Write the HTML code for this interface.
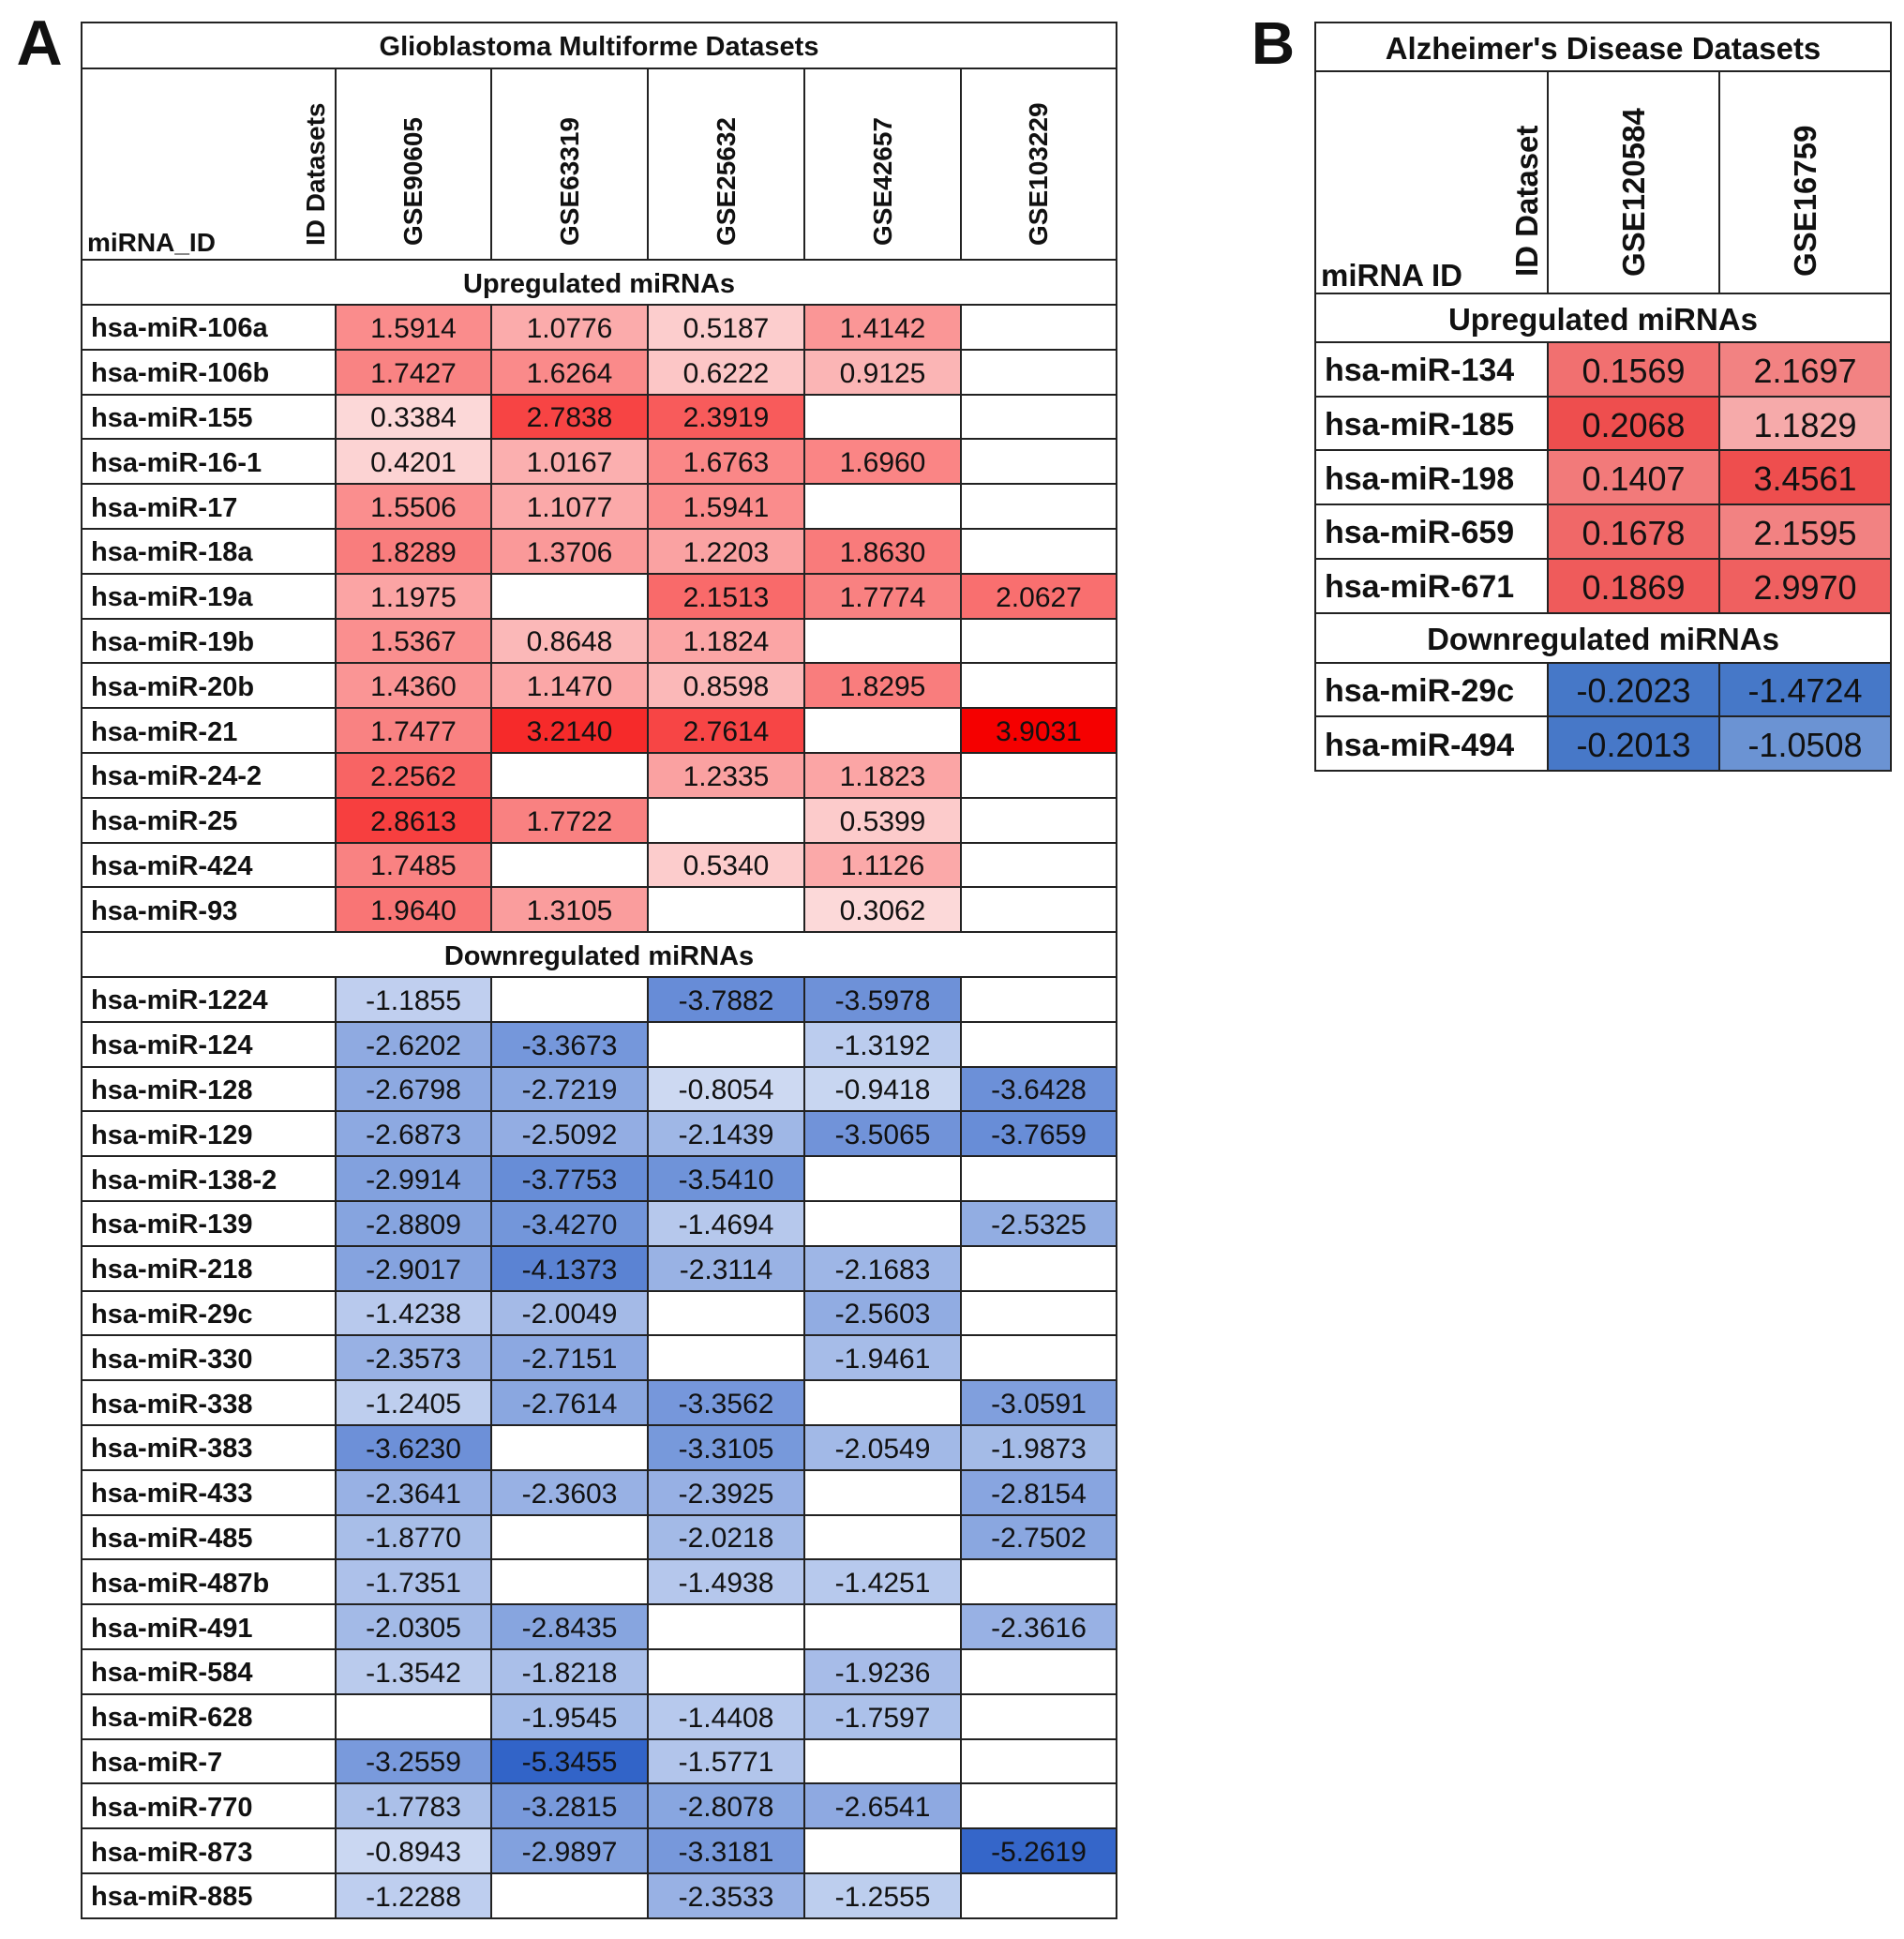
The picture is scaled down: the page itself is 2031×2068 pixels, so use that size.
<!DOCTYPE html>
<html><head><meta charset="utf-8"><style>
body{margin:0;background:#fff;width:2031px;height:2068px;position:relative;overflow:hidden;font-family:"Liberation Sans",Arial,sans-serif;color:#111}
.c{position:absolute;box-sizing:border-box;display:flex;align-items:center;justify-content:center;white-space:nowrap;padding-top:4px}
.ln{position:absolute;background:#222}
.rot{position:absolute;transform-origin:0 0;transform:rotate(-90deg);white-space:nowrap;font-weight:bold}
</style></head><body>
<div id="root"></div>
<script>
// ===== Panel A data =====
const colsA = ["GSE90605","GSE63319","GSE25632","GSE42657","GSE103229"];
const upRowsA = ["hsa-miR-106a","hsa-miR-106b","hsa-miR-155","hsa-miR-16-1","hsa-miR-17","hsa-miR-18a","hsa-miR-19a","hsa-miR-19b","hsa-miR-20b","hsa-miR-21","hsa-miR-24-2","hsa-miR-25","hsa-miR-424","hsa-miR-93"];
const upValsA = [
 [1.5914,1.0776,0.5187,1.4142,null],
 [1.7427,1.6264,0.6222,0.9125,null],
 [0.3384,2.7838,2.3919,null,null],
 [0.4201,1.0167,1.6763,1.6960,null],
 [1.5506,1.1077,1.5941,null,null],
 [1.8289,1.3706,1.2203,1.8630,null],
 [1.1975,null,2.1513,1.7774,2.0627],
 [1.5367,0.8648,1.1824,null,null],
 [1.4360,1.1470,0.8598,1.8295,null],
 [1.7477,3.2140,2.7614,null,3.9031],
 [2.2562,null,1.2335,1.1823,null],
 [2.8613,1.7722,null,0.5399,null],
 [1.7485,null,0.5340,1.1126,null],
 [1.9640,1.3105,null,0.3062,null]];
const downRowsA = ["hsa-miR-1224","hsa-miR-124","hsa-miR-128","hsa-miR-129","hsa-miR-138-2","hsa-miR-139","hsa-miR-218","hsa-miR-29c","hsa-miR-330","hsa-miR-338","hsa-miR-383","hsa-miR-433","hsa-miR-485","hsa-miR-487b","hsa-miR-491","hsa-miR-584","hsa-miR-628","hsa-miR-7","hsa-miR-770","hsa-miR-873","hsa-miR-885"];
const downValsA = [
 [-1.1855,null,-3.7882,-3.5978,null],
 [-2.6202,-3.3673,null,-1.3192,null],
 [-2.6798,-2.7219,-0.8054,-0.9418,-3.6428],
 [-2.6873,-2.5092,-2.1439,-3.5065,-3.7659],
 [-2.9914,-3.7753,-3.5410,null,null],
 [-2.8809,-3.4270,-1.4694,null,-2.5325],
 [-2.9017,-4.1373,-2.3114,-2.1683,null],
 [-1.4238,-2.0049,null,-2.5603,null],
 [-2.3573,-2.7151,null,-1.9461,null],
 [-1.2405,-2.7614,-3.3562,null,-3.0591],
 [-3.6230,null,-3.3105,-2.0549,-1.9873],
 [-2.3641,-2.3603,-2.3925,null,-2.8154],
 [-1.8770,null,-2.0218,null,-2.7502],
 [-1.7351,null,-1.4938,-1.4251,null],
 [-2.0305,-2.8435,null,null,-2.3616],
 [-1.3542,-1.8218,null,-1.9236,null],
 [null,-1.9545,-1.4408,-1.7597,null],
 [-3.2559,-5.3455,-1.5771,null,null],
 [-1.7783,-3.2815,-2.8078,-2.6541,null],
 [-0.8943,-2.9897,-3.3181,null,-5.2619],
 [-1.2288,null,-2.3533,-1.2555,null]];
// ===== Panel B data =====
const colsB = ["GSE120584","GSE16759"];
const upRowsB = ["hsa-miR-134","hsa-miR-185","hsa-miR-198","hsa-miR-659","hsa-miR-671"];
const upValsB = [[0.1569,2.1697],[0.2068,1.1829],[0.1407,3.4561],[0.1678,2.1595],[0.1869,2.9970]];
const downRowsB = ["hsa-miR-29c","hsa-miR-494"];
const downValsB = [[-0.2023,-1.4724],[-0.2013,-1.0508]];

const root = document.getElementById('root');
function mix(a,b,t){t=Math.max(0,Math.min(1,t));return 'rgb('+a.map((x,i)=>Math.round(x+(b[i]-x)*t)).join(',')+')';}
function redA(v){return mix([253,236,236],[245,0,0],v/3.9031);}
function blueA(v){return mix([232,238,250],[50,100,200],Math.abs(v)/5.3455);}
function box(x,y,w,h,text,css,name){
  const d=document.createElement('div');d.className='c';
  d.style.cssText+=`left:${x}px;top:${y}px;width:${w}px;height:${h}px;`+(css||'');
  d.textContent=text;
  
  
  root.appendChild(d);return d;}
function line(x,y,w,h){const d=document.createElement('div');d.className='ln';
  d.style.cssText=`left:${x}px;top:${y}px;width:${w}px;height:${h}px;`;
  
  
  root.appendChild(d);}
function rot(x,yBottom,text,fs,name){const d=document.createElement('div');d.className='rot';
  d.style.cssText=`left:${x}px;top:${yBottom}px;font-size:${fs}px;line-height:${fs}px;`;
  d.textContent=text;
  
  
  root.appendChild(d);}

function panel(cfg){
  const {L,R,colX,top,titleB,headB,upH,rowH,secH,cols,upRows,upVals,downRows,downVals,red,blue,title,fsL,fsV,fsH,fsT,miLabel,idLabel,idX,colBottom,miY,key}=cfg;
  box(L,top,R-L,titleB-top,title,`font-weight:bold;font-size:${fsT}px;`,key+'-title');
  box(L+6,miY,200,fsH+6,miLabel,`justify-content:flex-start;font-size:${fsH}px;font-weight:bold;`,key+'-mirna-id-header');
  rot(idX,colBottom,idLabel,fsH,key+'-id-datasets-header');
  cols.forEach((c,i)=>{const cx=(colX[i]+colX[i+1])/2;rot(cx-fsH/2,colBottom,c,fsH,key+'-col-'+c);});
  let y=headB;
  box(L,y,R-L,upH,'Upregulated miRNAs',`font-weight:bold;font-size:${fsT}px;`,key+'-upregulated-heading');
  const hl=[top,titleB,headB,y+upH];
  y+=upH;
  upRows.forEach((r,i)=>{box(L+10,y,colX[0]-L-10,rowH,r,`justify-content:flex-start;font-weight:bold;font-size:${fsL}px;`,key+'-row-label');
    upVals[i].forEach((v,j)=>{if(v!==null)box(colX[j],y,colX[j+1]-colX[j],rowH,v.toFixed(4),`background:${red(v,j)};font-size:${fsV}px;`,key+'-cell');});
    y+=rowH;hl.push(y);});
  const upEnd=y;
  box(L,y,R-L,secH,'Downregulated miRNAs',`font-weight:bold;font-size:${fsT}px;`,key+'-downregulated-heading');
  y+=secH;hl.push(y);const downStart=y;
  downRows.forEach((r,i)=>{box(L+10,y,colX[0]-L-10,rowH,r,`justify-content:flex-start;font-weight:bold;font-size:${fsL}px;`,key+'-row-label');
    downVals[i].forEach((v,j)=>{if(v!==null)box(colX[j],y,colX[j+1]-colX[j],rowH,v.toFixed(4),`background:${blue(v,j)};font-size:${fsV}px;`,key+'-cell');});
    y+=rowH;hl.push(y);});
  hl.forEach(h=>line(L-1,h-1,R-L+2,2));
  line(L-1,top-1,2,y-top+2);line(R-1,top-1,2,y-top+2);
  colX.forEach((x,i)=>{if(i<colX.length-1){line(x-1,titleB,2,headB-titleB);line(x-1,headB+upH,2,upEnd-headB-upH);line(x-1,downStart,2,y-downStart);}});
}

panel({key:'gbm',L:87,R:1191,colX:[358,524,691,858,1025,1191],top:24,titleB:73,headB:277,upH:48,rowH:47.8,secH:47.8,
  cols:colsA,upRows:upRowsA,upVals:upValsA,downRows:downRowsA,downVals:downValsA,red:redA,blue:blueA,
  title:'Glioblastoma Multiforme Datasets',fsL:29,fsV:30,fsH:28,fsT:29,miLabel:'miRNA_ID',idLabel:'ID Datasets',idX:323,colBottom:262,miY:240});

function colMax(arr,j){return Math.max(...arr.map(r=>Math.abs(r[j])));}
panel({key:'ad',L:1403,R:2017,colX:[1651,1834,2017],top:24,titleB:76,headB:313,upH:52,rowH:57.7,secH:53,
  cols:colsB,upRows:upRowsB,upVals:upValsB,downRows:downRowsB,downVals:downValsB,
  red:(v,j)=>mix([252,236,236],[235,50,50],0.1+0.75*(v/colMax(upValsB,j))),
  blue:(v,j)=>mix([232,238,250],[70,120,200],0.2+0.8*Math.abs(v)/colMax(downValsB,j)),
  title:"Alzheimer's Disease Datasets",fsL:34,fsV:36,fsH:33,fsT:33,miLabel:'miRNA ID',idLabel:'ID Dataset',idX:1612,colBottom:295,miY:272});

box(14,14,56,60,'A','font-weight:bold;font-size:68px;','panel-a-label');
box(1330,14,56,60,'B','font-weight:bold;font-size:64px;','panel-b-label');
</script>
</body></html>
